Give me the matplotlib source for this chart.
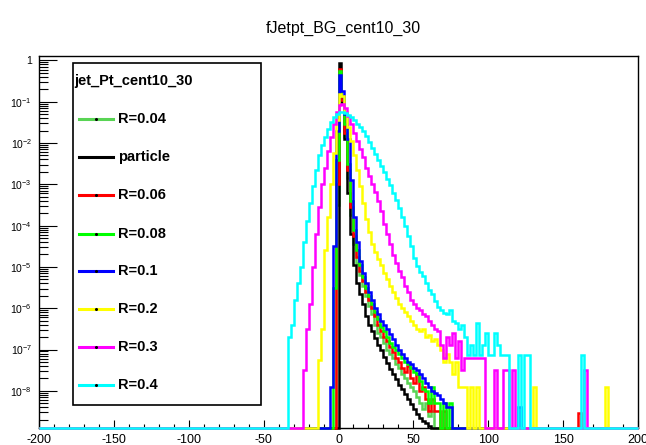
import numpy as np
import matplotlib
matplotlib.use("Agg")
import matplotlib.pyplot as plt
from matplotlib.lines import Line2D
from matplotlib.patches import Rectangle
from matplotlib.ticker import LogLocator, MultipleLocator, NullFormatter

plt.rcParams['font.family'] = ['Liberation Sans', 'DejaVu Sans']
plt.rcParams['mathtext.fontset'] = 'custom'
plt.rcParams['mathtext.rm'] = 'Liberation Sans'
plt.rcParams['mathtext.it'] = 'Liberation Sans:italic'
plt.rcParams['mathtext.bf'] = 'Liberation Sans:bold'

# ---------- data: log10(bin content), bins of width 2, None = empty bin ----------
BIN_W = 2

r004_start = -2
r004_logs = [-3.5, -0.2, -1.0, -1.85, -2.85, -3.75, -4.45, -4.9, -5.2, -5.45, -5.7,
             -5.95, -6.15, -6.4, -6.6, -6.7, -6.85, -7.0, -7.1, -7.2, -7.35, -7.45,
             -7.6, -7.7, -7.8, -7.9, -8.0, -8.15, -8.3, -8.45, -8.3, -8.6, -8.5]
r004_iso = []

part_start = 0
part_logs = [-0.07, -1.0, -1.9, -3.2, -4.2, -4.95, -5.4, -5.65, -5.9, -6.2, -6.4,
             -6.55, -6.72, -6.88, -7.02, -7.17, -7.32, -7.47, -7.6, -7.72, -7.85,
             -7.96, -8.08, -8.2, -8.33, -8.45, -8.57, -8.65, -8.72, -8.78, -8.84]
part_iso = []

r006_start = -2
r006_logs = [-3.0, -0.2, -0.95, -1.75, -2.65, -3.55, -4.25, -4.75, -5.1, -5.35, -5.6,
             -5.8, -6.0, -6.2, -6.4, -6.55, -6.7, -6.8, -6.95, -7.05, -7.2, -7.3,
             -7.45, -7.55, -7.4, -7.7, -7.8, -7.6, -8.0, -7.9, -8.2, -8.5, -8.2,
             -8.5, -8.5, None, -8.5]
r006_iso = [(161, -8.54)]

r008_start = -4
r008_logs = [-5.5, -2.4, -0.25, -0.85, -1.55, -2.5, -3.4, -4.1, -4.6, -4.95, -5.25,
             -5.5, -5.7, -5.9, -6.1, -6.25, -6.45, -6.55, -6.7, -6.85, -6.95, -7.0,
             -7.1, -7.2, -7.3, -7.35, -7.45, -7.55, -7.6, -7.75, -7.95, -8.0, -8.3,
             -7.9, -8.3, -8.3, None, -8.3, None, -8.3]
r008_iso = []

r01_start = -6
r01_logs = [-7.9, -4.5, -1.7, -0.35, -0.75, -1.3, -1.9, -2.9, -3.8, -4.4, -4.85,
            -5.15, -5.4, -5.6, -5.8, -6.0, -6.15, -6.3, -6.4, -6.5, -6.62, -6.75,
            -6.88, -7.0, -7.12, -7.2, -7.3, -7.35, -7.45, -7.5, -7.6, -7.7, -7.8,
            -7.9, -8.0, -8.05, -8.1, -8.2, -8.3, -8.4, -8.4]
r01_iso = [(121, -8.4)]

r02_start = -14
r02_logs = [-7.25, -6.5, -4.6, -3.8, -3.0, -2.25, -1.45, -0.82, -0.85, -1.25, -1.6,
            -1.95, -2.3, -2.65, -3.05, -3.45, -3.85, -4.15, -4.45, -4.65, -4.8,
            -4.95, -5.15, -5.3, -5.45, -5.6, -5.75, -5.9, -6.0, -6.1, -6.2, -6.3,
            -6.4, -6.5, -6.55, -6.5, -6.7, -6.65, -6.8, -6.75, -6.9, -7.0, -7.3,
            -7.1, -7.3, -7.6, -7.3, -7.9, -7.9, -7.9, None, -7.9, None, -7.9]
r02_iso = [(131, -7.9), (179, -7.9)]

r03_start = -24
r03_logs = [-7.5, -6.5, -5.9, -5.0, -4.2, -3.55, -3.0, -2.6, -2.2, -1.85, -1.55,
            -1.25, -1.07, -1.05, -1.15, -1.35, -1.55, -1.75, -1.95, -2.15, -2.35,
            -2.6, -2.8, -3.0, -3.18, -3.4, -3.65, -3.95, -4.2, -4.45, -4.7, -4.9,
            -5.1, -5.25, -5.45, -5.6, -5.8, -5.9, -6.0, -6.05, -6.15, -6.2, -6.3,
            -6.4, -6.5, -6.55, -6.9, -7.2, -6.7, -6.9, -6.6, -7.2, -6.8, -7.5,
            -7.2, -7.2, -7.2, -7.2, -7.2, -7.2, -7.2, None, None, None, -7.5,
            None, None, -7.5, -7.5, None, -7.5]
r03_iso = [(165, -7.5)]

r04_start = -34
r04_logs = [-6.7, -6.4, -5.8, -5.4, -5.0, -4.4, -3.9, -3.45, -3.05, -2.65, -2.3,
            -2.05, -1.85, -1.65, -1.5, -1.38, -1.3, -1.25, -1.24, -1.27, -1.32,
            -1.38, -1.45, -1.53, -1.62, -1.72, -1.84, -1.98, -2.12, -2.26, -2.4,
            -2.55, -2.7, -2.86, -3.02, -3.2, -3.38, -3.58, -3.8, -4.02, -4.25,
            -4.5, -4.78, -4.98, -5.12, -5.22, -5.38, -5.55, -5.66, -5.82, -5.98,
            -6.05, -6.12, -6.15, -6.05, -6.3, -6.36, -6.5, -6.4, -6.7, -7.13,
            -6.9, -7.13, -6.36, -7.13, -6.9, -6.6, -7.13, -7.13, -6.6, -6.9,
            -7.13, -7.13, -7.13, None, None, None, -7.13, None, -7.13, -7.13]
r04_iso = [(163, -7.13)]

labels = ["R=0.04", "particle", "R=0.06", "R=0.08", "R=0.1", "R=0.2", "R=0.3", "R=0.4"]
colors = ["#59d454", "#000000", "#ff0000", "#00ff00", "#0000ff", "#ffff00", "#ff00ff", "#00ffff"]
starts = [r004_start, part_start, r006_start, r008_start, r01_start, r02_start, r03_start, r04_start]
logs = [r004_logs, part_logs, r006_logs, r008_logs, r01_logs, r02_logs, r03_logs, r04_logs]
isos = [r004_iso, part_iso, r006_iso, r008_iso, r01_iso, r02_iso, r03_iso, r04_iso]

# ---------- figure ----------
W, H = 646, 445
YMIN, YMAX = 10**-8.9, 10**0.107
edges = np.arange(-200, 201, BIN_W)


def fx(px):
    return px / W


def fy(py):
    return 1 - py / H


def full_hist(start, lg, iso):
    vals = np.full(len(edges) - 1, YMIN)
    i0 = (start + 200) // BIN_W
    for k, v in enumerate(lg):
        if v is not None:
            vals[i0 + k] = 10**v
    for x, v in iso:
        vals[int((x + 200) // BIN_W)] = 10**v
    return vals


fig = plt.figure(figsize=(W / 100, H / 100), dpi=100)
ax = fig.add_axes([fx(39), fy(428), fx(638) - fx(39), fy(56) - fy(428)])

for st, lg, iso, c in zip(starts, logs, isos, colors):
    ax.stairs(full_hist(st, lg, iso), edges, baseline=None, color=c, lw=1.8,
              clip_on=False, zorder=3)

ax.set_xlim(-200, 200)
ax.set_yscale('log')
ax.set_ylim(YMIN, YMAX)

xt = np.arange(-200, 201, 50)
ax.set_xticks(xt, [str(v) for v in xt])
ax.xaxis.set_minor_locator(MultipleLocator(10))
ax.tick_params(axis='x', which='major', direction='in', length=6, width=0.8,
               top=False, labelsize=9, pad=4)
ax.tick_params(axis='x', which='minor', direction='in', length=3, width=0.8, top=False)

yt = [10.0**-k for k in range(9)]
ax.set_yticks(yt, ["1"] + [rf"$10^{{-{k}}}$" for k in range(1, 9)])
ax.yaxis.set_minor_locator(LogLocator(base=10, subs=np.arange(2, 10) * 1.0, numticks=20))
ax.yaxis.set_minor_formatter(NullFormatter())
ax.tick_params(axis='y', which='major', direction='in', length=13, width=0.8,
               right=False, labelsize=7.5, pad=5)
ax.tick_params(axis='y', which='minor', direction='in', length=6.5, width=0.8, right=False)
for s in ax.spines.values():
    s.set_linewidth(1.0)

fig.text(fx(343), fy(33), "fJetpt_BG_cent10_30", ha='center', va='baseline', fontsize=11.5)

# ---------- legend ----------
fig.patches.append(Rectangle((fx(73), fy(405)), fx(261) - fx(73), fy(63) - fy(405),
                             transform=fig.transFigure, facecolor='white',
                             edgecolor='black', lw=1.2, zorder=5))
fig.text(fx(74), fy(81), "jet_Pt_cent10_30", ha='left', va='center',
         fontsize=10.5, fontweight='bold', zorder=6)
entry_y = [119, 157, 195, 234, 271, 309, 347, 385]
for lab, c, py in zip(labels, colors, entry_y):
    fig.lines.append(Line2D([fx(79), fx(113)], [fy(py), fy(py)], transform=fig.transFigure,
                            color=c, lw=2.2, zorder=6))
    fig.lines.append(Line2D([fx(96)], [fy(py)], transform=fig.transFigure, marker='o',
                            ms=1.2, color='black', zorder=7))
    fig.text(fx(118), fy(py), lab, ha='left', va='center', fontsize=10.5,
             fontweight='bold', zorder=6)

fig.savefig("out.png", dpi=100)
